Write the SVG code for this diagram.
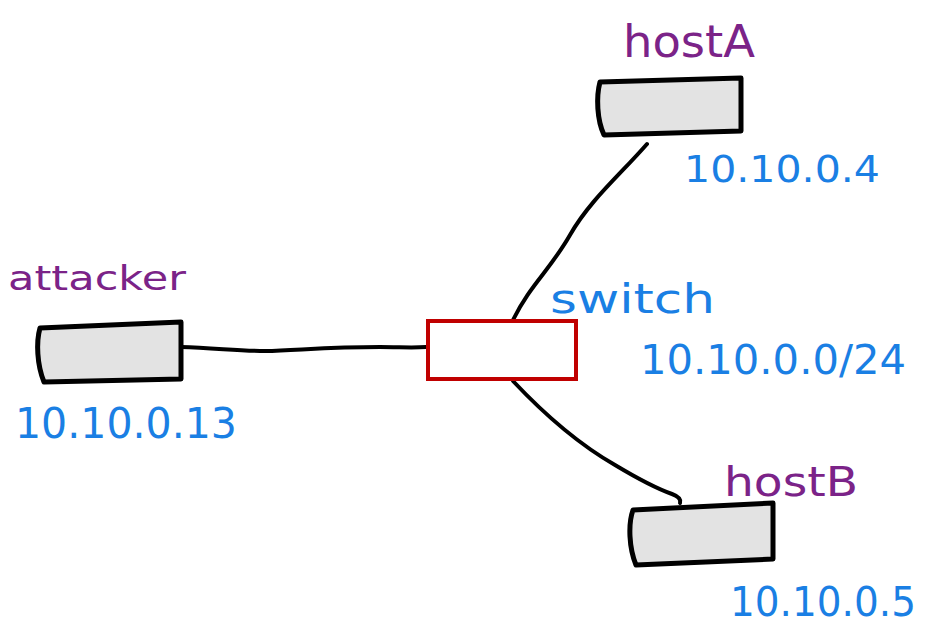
<svg xmlns="http://www.w3.org/2000/svg" width="928" height="629" viewBox="0 0 928 629">
<style>
.box{fill:#e3e3e3;stroke:#000;stroke-width:5;stroke-linejoin:round}
.wire{fill:none;stroke:#000;stroke-width:4;stroke-linecap:round;stroke-linejoin:round}
.name{font-family:"Comic Sans MS","DejaVu Sans",sans-serif;fill:#7b2388}
.ip{font-family:"Comic Sans MS","DejaVu Sans",sans-serif;fill:#1a7fe4}
</style>
<rect width="928" height="629" fill="#fff"/>
<g id="connectors">
<path class="wire" d="M181,347 C215,348 240,351 265,351 C300,350 330,347 380,347 C400,347 412,348 426,347"/>
<path class="wire" d="M647,144 C620,175 590,200 570,235 C550,270 530,285 513,320"/>
<path class="wire" d="M513,381 C545,415 580,445 615,465 C640,480 655,488 672,494 C680,497 681,500 680,503"/>
</g>
<g id="hostA">
<path class="box" d="M600,82 L741,78 L741,131 L604,135 C597,120 596,97 600,82 Z"/>
<text class="name" x="623" y="57" font-size="44" textLength="132" lengthAdjust="spacingAndGlyphs">hostA</text>
<text class="ip" x="684" y="182" font-size="38" textLength="196" lengthAdjust="spacingAndGlyphs">10.10.0.4</text>
</g>
<g id="attacker">
<path class="box" d="M40,328 L181,322 L181,379 L44,382 C37,365 36,342 40,328 Z"/>
<text class="name" x="8" y="290" font-size="34" textLength="178" lengthAdjust="spacingAndGlyphs">attacker</text>
<text class="ip" x="15" y="438" font-size="42" textLength="222" lengthAdjust="spacingAndGlyphs">10.10.0.13</text>
</g>
<g id="switch">
<rect x="428" y="321" width="148" height="58" fill="#fff" stroke="#c00000" stroke-width="4"/>
<text class="ip" x="550" y="313" font-size="40" textLength="165" lengthAdjust="spacingAndGlyphs">switch</text>
<text class="ip" x="640" y="374" font-size="40" textLength="266" lengthAdjust="spacingAndGlyphs">10.10.0.0/24</text>
</g>
<g id="hostB">
<path class="box" d="M633,510 L773,503 L773,559 L636,565 C629,548 628,524 633,510 Z"/>
<text class="name" x="724" y="496" font-size="40" textLength="134" lengthAdjust="spacingAndGlyphs">hostB</text>
<text class="ip" x="730" y="616" font-size="40" textLength="186" lengthAdjust="spacingAndGlyphs">10.10.0.5</text>
</g>
</svg>
